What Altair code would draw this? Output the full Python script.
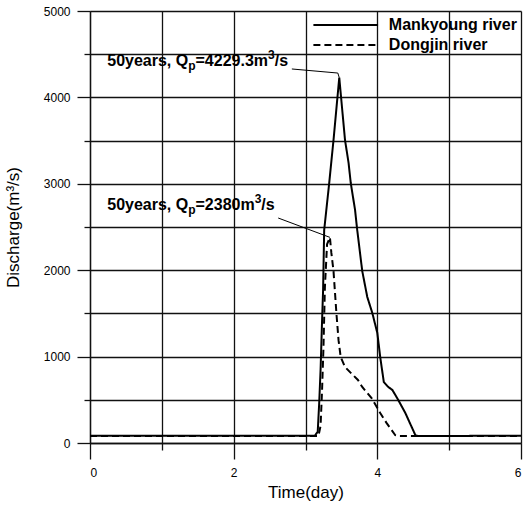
import altair as alt
import pandas as pd

# ---------------- data ----------------
mank_day = [0.0, 3.13, 3.17, 3.19, 3.21, 3.23, 3.245, 3.26, 3.29, 3.33, 3.39, 3.47,
            3.55, 3.60, 3.63, 3.69, 3.72, 3.79, 3.86, 3.93, 4.00, 4.04, 4.09, 4.15,
            4.21, 4.29, 4.39, 4.53, 4.57, 6.0]
mank_q = [85, 85, 130, 450, 850, 1400, 1770, 2465, 2697, 3009, 3507, 4229.3,
          3507, 3240, 3009, 2697, 2465, 1990, 1690, 1505, 1273, 995, 706, 650,
          613, 500, 347, 90, 80, 85]

dong_day = [0.0, 3.18, 3.21, 3.23, 3.25, 3.27, 3.30, 3.34, 3.36, 3.39, 3.43, 3.46,
            3.49, 3.55, 3.66, 3.73, 3.79, 3.92, 4.04, 4.13, 4.25, 4.30, 6.0]
dong_q = [80, 80, 200, 600, 1100, 1800, 2300, 2380, 2200, 1990, 1505, 1190,
          995, 880, 787, 730, 648, 520, 347, 230, 90, 80, 80]

series_names = ["Mankyoung river", "Dongjin river"]

x_ticks = [0, 1, 2, 3, 4, 5, 6]
y_ticks = [0, 500, 1000, 1500, 2000, 2500, 3000, 3500, 4000, 4500, 5000]

# legend placement in data units (inside the plot, top right)
leg_day_start = 3.11
leg_day_end = 4.01
leg_text_day = 4.16
leg_q = [4838, 4606]

# annotations: anchor (day, discharge), peak values, leader lines
ann_day = [0.24, 0.24]
ann_q = [4363, 2697]
ann_peak = ["4229.3", "2380"]
lead1_day = [2.81, 3.45, 3.47]
lead1_q = [4329, 4282, 4229.3]
lead2_day = [2.62, 3.34]
lead2_q = [2604, 2380]

# ---------------- tables ----------------
df = pd.concat([
    pd.DataFrame({"day": mank_day, "q": mank_q, "series": series_names[0], "o": range(len(mank_day))}),
    pd.DataFrame({"day": dong_day, "q": dong_q, "series": series_names[1], "o": range(len(dong_day))}),
])
lead = pd.concat([
    pd.DataFrame({"day": lead1_day, "q": lead1_q, "g": "a", "o": range(len(lead1_day))}),
    pd.DataFrame({"day": lead2_day, "q": lead2_q, "g": "b", "o": range(len(lead2_day))}),
])
leg = pd.DataFrame({"series": series_names, "q": leg_q,
                    "d0": leg_day_start, "d1": leg_day_end, "dt": leg_text_day})

FONT = "Liberation Sans"
W = 431
H = 432
GRID = "#111111"

x_scale = alt.Scale(domain=[0, 6], nice=False, zero=False)
y_scale = alt.Scale(domain=[0, 5000], nice=False)
dash_scale = alt.Scale(domain=series_names, range=[[1, 0], [7, 4]])

x_axis = alt.Axis(
    values=x_ticks, title="Time(day)", grid=True, gridColor=GRID, gridWidth=1.3,
    format="d",
    labelExpr="datum.value % 2 === 0 ? datum.label : ''",
    tickSize={"condition": {"test": "datum.value % 2 === 0", "value": 16}, "value": 7},
    tickColor=GRID, tickWidth=1.3, domainColor=GRID, domainWidth=1.3,
    labelFont=FONT, labelFontSize=12,
    labelColor="black", labelPadding=8, titleFont=FONT, titleFontSize=17,
    titleFontWeight="normal", titleColor="black", titlePadding=6,
)
y_axis = alt.Axis(
    values=y_ticks, title="Discharge(m³/s)", grid=True, gridColor=GRID, gridWidth=1.3,
    labelExpr="datum.value % 1000 === 0 ? datum.label : ''", format="d",
    tickSize={"condition": {"test": "datum.value % 1000 === 0", "value": 13}, "value": 6},
    tickColor=GRID, tickWidth=1.3, domainColor=GRID, domainWidth=1.3,
    labelFont=FONT, labelFontSize=12,
    labelColor="black", labelPadding=7, titleFont=FONT, titleFontSize=17,
    titleFontWeight="normal", titleColor="black", titlePadding=21,
)

lines = alt.Chart(df).mark_line(color="black", strokeWidth=2, clip=True).encode(
    x=alt.X("day:Q", scale=x_scale, axis=x_axis),
    y=alt.Y("q:Q", scale=y_scale, axis=y_axis),
    order="o:Q",
    strokeDash=alt.StrokeDash("series:N", scale=dash_scale, legend=None),
)

leaders = alt.Chart(lead).mark_line(color="black", strokeWidth=1).encode(
    x=alt.X("day:Q", scale=x_scale), y=alt.Y("q:Q", scale=y_scale),
    detail="g:N", order="o:Q",
)

leg_lines = alt.Chart(leg).mark_rule(color="black", strokeWidth=2).encode(
    x=alt.X("d0:Q", scale=x_scale), x2="d1:Q",
    y=alt.Y("q:Q", scale=y_scale),
    strokeDash=alt.StrokeDash("series:N", scale=dash_scale, legend=None),
)
leg_text = alt.Chart(leg).mark_text(
    font=FONT, fontSize=16, fontWeight="bold", align="left", baseline="middle", color="black"
).encode(
    x=alt.X("dt:Q", scale=x_scale), y=alt.Y("q:Q", scale=y_scale), text="series:N",
)

# rich-text annotation built from parts (Arial-bold metrics for offsets)
ARIAL_B = {"0": .556, "1": .556, "2": .556, "3": .556, "4": .556, "5": .556, "6": .556,
           "7": .556, "8": .556, "9": .556, "y": .556, "e": .556, "a": .556, "r": .389,
           "s": .556, ",": .278, " ": .278, "Q": .778, "p": .611, "=": .584, ".": .278,
           "m": .889, "/": .278}


def tw(s, size):
    return sum(ARIAL_B.get(c, .556) for c in s) * size


ann_df = pd.DataFrame({"day": ann_day, "q": ann_q})
texts = []
for i, peak in enumerate(ann_peak):
    parts = [("50years, Q", 16, 0), ("p", 12, 4), ("=" + peak + "m", 16, 0), ("3", 12, -7), ("/s", 16, 0)]
    off = 0.0
    for s, size, dy in parts:
        texts.append(
            alt.Chart(ann_df.iloc[[i]]).mark_text(
                text=s, font=FONT, fontSize=size, fontWeight="bold", align="left",
                baseline="alphabetic", dx=off, dy=dy, color="black",
            ).encode(x=alt.X("day:Q", scale=x_scale), y=alt.Y("q:Q", scale=y_scale))
        )
        off += tw(s, size)

chart = alt.layer(lines, leaders, leg_lines, leg_text, *texts).properties(
    width=W, height=H,
    padding={"left": 90, "top": 11, "right": 3, "bottom": 62},
    autosize=alt.AutoSizeParams(type="none"),
    background="white",
).configure_view(stroke=None)

chart.save("out.html", embed_options={"renderer": "svg", "actions": False})
